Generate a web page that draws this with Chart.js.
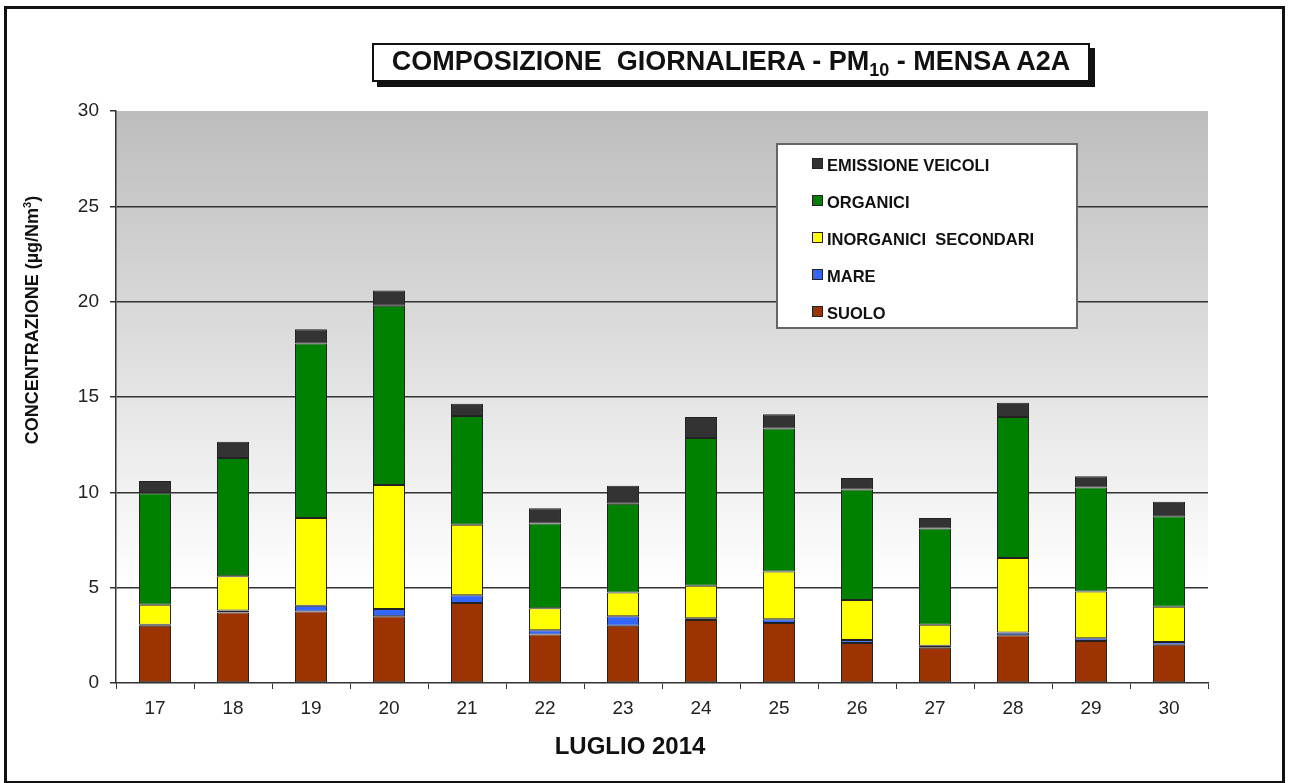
<!DOCTYPE html>
<html>
<head>
<meta charset="utf-8">
<script src="https://cdn.jsdelivr.net/npm/chart.js@4.4.1/dist/chart.umd.min.js"></script>
<style>
  html, body { margin: 0; padding: 0; background: #fff; }
  #wrap { position: relative; width: 1289px; height: 783px; overflow: hidden; font-family: 'Liberation Sans', Arial, sans-serif; color: #111; }
  #frame { position: absolute; left: 4px; top: 6px; width: 1281px; height: 778px; border: 3px solid #111; box-sizing: border-box; }
  #chart { position: absolute; left: 0; top: 0; }
  #title { position: absolute; left: 372px; top: 43px; width: 718px; height: 39px; border: 2px solid #111; box-sizing: border-box; background: #fff; box-shadow: 5px 5px 0 #111; font-weight: bold; font-size: 27px; line-height: 33px; text-align: center; white-space: nowrap; }
  #title sub { font-size: 18px; line-height: 0; vertical-align: -6px; }
  #legend { position: absolute; left: 776px; top: 143px; width: 302px; height: 186px; border: 2px solid #666; box-sizing: border-box; background: #fff; }
  #legend div { position: absolute; left: 34px; height: 20px; line-height: 20px; font-weight: bold; font-size: 16.5px; white-space: pre; }
  #legend span { display: inline-block; width: 9px; height: 9px; border: 1px solid #222; margin-right: 4px; vertical-align: 2px; }
  #ytitle { position: absolute; left: 32px; top: 320px; transform: translate(-50%, -50%) rotate(-90deg); font-weight: bold; font-size: 18px; white-space: nowrap; }
  #ytitle sup { font-size: 11px; line-height: 0; }
  #xtitle { position: absolute; left: 630px; top: 746px; transform: translate(-50%, -50%); font-weight: bold; font-size: 24px; white-space: nowrap; }
</style>
</head>
<body>
<div id="wrap">
  <canvas id="chart" width="1289" height="783"></canvas>
  <div id="frame"></div>
  <div id="title">COMPOSIZIONE&nbsp; GIORNALIERA - PM<sub>10</sub> - MENSA A2A</div>
  <div id="legend"></div>
  <div id="ytitle">CONCENTRAZIONE (µg/Nm<sup>3</sup>)</div>
  <div id="xtitle">LUGLIO 2014</div>
</div>
<script>
// giorni di luglio 2014
const days = ['17', '18', '19', '20', '21', '22', '23', '24', '25', '26', '27', '28', '29', '30'];

// contributi per sorgente (µg/Nm3), dal basso verso l'alto
const suolo      = [3.0, 3.7, 3.75, 3.5, 4.2, 2.55, 3.0, 3.3, 3.15, 2.1, 1.85, 2.5, 2.2, 2.0];
const mare       = [0.05, 0.1, 0.3, 0.38, 0.4, 0.22, 0.5, 0.1, 0.2, 0.15, 0.1, 0.15, 0.15, 0.15];
const inorganici = [1.05, 1.8, 4.6, 6.5, 3.7, 1.15, 1.25, 1.7, 2.5, 2.1, 1.1, 3.9, 2.45, 1.85];
const organici   = [5.85, 6.2, 9.15, 9.4, 5.7, 4.45, 4.65, 7.75, 7.5, 5.8, 5.05, 7.4, 5.45, 4.75];
const veicoli    = [0.65, 0.85, 0.75, 0.8, 0.65, 0.8, 0.95, 1.1, 0.75, 0.6, 0.55, 0.75, 0.6, 0.75];

const yTicks = [0, 5, 10, 15, 20, 25, 30];

function serie(label, data, color) {
    return {
        label: label,
        data: data,
        backgroundColor: color,
        borderColor: '#222',
        borderWidth: 1,
        borderSkipped: false,
        categoryPercentage: 1,
        barPercentage: 0.41
    };
}

const datasets = [
    serie('SUOLO', suolo, '#9c3300'),
    serie('MARE', mare, '#3366ff'),
    serie('INORGANICI  SECONDARI', inorganici, '#ffff00'),
    serie('ORGANICI', organici, '#008000'),
    serie('EMISSIONE VEICOLI', veicoli, '#333333')
];

// sfondo grigio sfumato dell'area del grafico
const plotBackground = {
    id: 'plotBackground',
    beforeDraw(chart) {
        const { ctx, chartArea: a, scales } = chart;
        const g = ctx.createLinearGradient(0, a.top, 0, scales.y.getPixelForValue(5));
        g.addColorStop(0, '#bdbdbd');
        g.addColorStop(1, '#ffffff');
        ctx.save();
        ctx.fillStyle = g;
        ctx.fillRect(a.left, a.top, a.right - a.left, a.bottom - a.top);
        ctx.restore();
    }
};

const chart = new Chart(document.getElementById('chart'), {
    type: 'bar',
    data: { labels: days, datasets: datasets },
    options: {
        responsive: false,
        animation: false,
        devicePixelRatio: 1,
        layout: { padding: { left: 56, top: 111, right: 81, bottom: 60 } },
        plugins: {
            legend: { display: false },
            tooltip: { enabled: false }
        },
        scales: {
            x: {
                stacked: true,
                afterFit: (scale) => { scale.height = 40; },
                grid: {
                    drawOnChartArea: false,
                    offset: true,
                    tickLength: 6,
                    color: '#333',
                    lineWidth: 1
                },
                border: { color: '#333', width: 1.5 },
                ticks: {
                    color: '#222',
                    padding: 8,
                    font: { family: 'Liberation Sans', size: 19 }
                }
            },
            y: {
                stacked: true,
                min: 0,
                max: 30,
                afterFit: (scale) => { scale.width = 60; },
                afterBuildTicks: (scale) => { scale.ticks = yTicks.map(v => ({ value: v })); },
                grid: {
                    color: (context) => (context.tick.value === 0 || context.tick.value === 30) ? 'rgba(0,0,0,0)' : '#333',
                    lineWidth: 1.5,
                    tickColor: '#333',
                    tickLength: 6
                },
                border: { color: '#333', width: 1.5 },
                ticks: {
                    color: '#222',
                    padding: 11,
                    font: { family: 'Liberation Sans', size: 19 }
                }
            }
        }
    },
    plugins: [plotBackground]
});

// legenda nel riquadro, ordine inverso rispetto all'impilamento
const legend = document.getElementById('legend');
chart.data.datasets.slice().reverse().forEach((ds, i) => {
    const row = document.createElement('div');
    row.style.top = (10 + i * 37) + 'px';
    const box = document.createElement('span');
    box.style.background = ds.backgroundColor;
    row.appendChild(box);
    row.appendChild(document.createTextNode(ds.label));
    legend.appendChild(row);
});
</script>
</body>
</html>
